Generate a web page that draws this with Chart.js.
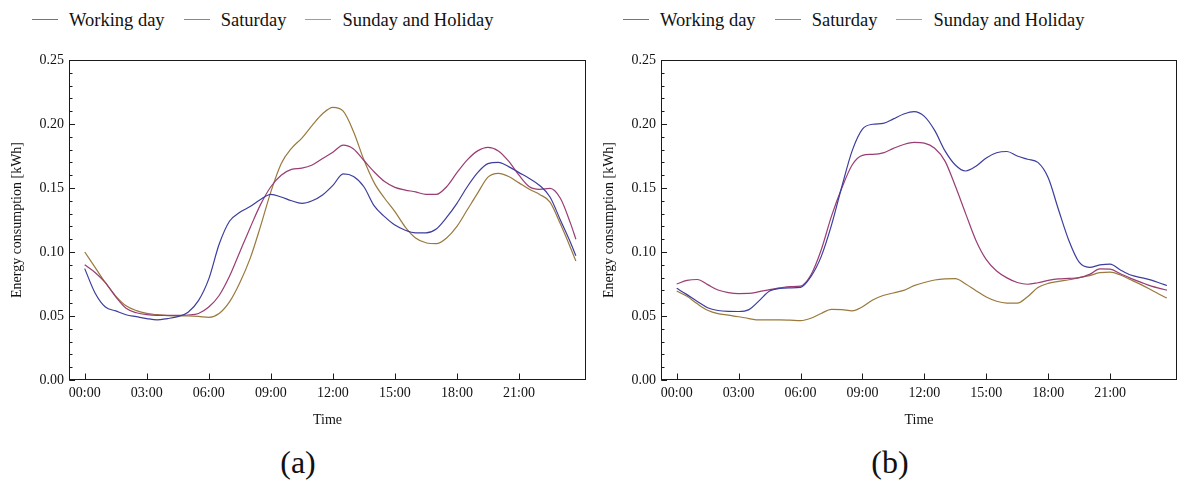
<!DOCTYPE html>
<html>
<head>
<meta charset="utf-8">
<script src="https://cdn.jsdelivr.net/npm/chart.js@4.4.1/dist/chart.umd.min.js"></script>
<style>
  html, body { margin: 0; padding: 0; background: #fff; overflow: hidden; }
  body { width: 1180px; height: 482px; position: relative; font-family: "Liberation Serif", "Times New Roman", serif; color: #111; }
  canvas { position: absolute; top: 40px; }
  #chartA { left: 0; }
  #chartB { left: 592px; }
  .legend { position: absolute; top: 9.5px; display: flex; align-items: center; font-size: 18.5px; line-height: 20px; white-space: nowrap; }
  .legend .item { display: flex; align-items: center; }
  .legend .item + .item { margin-left: 19px; }
  .legend .swatch { width: 26px; height: 1px; margin-right: 11px; opacity: 0.75; }
  .caption { position: absolute; top: 445.5px; width: 200px; text-align: center; font-size: 32px; line-height: 32px; }
</style>
</head>
<body>
<div class="legend" id="legendA" style="left:32px"></div>
<div class="legend" id="legendB" style="left:623px"></div>
<canvas id="chartA" width="590" height="400"></canvas>
<canvas id="chartB" width="588" height="400"></canvas>
<div class="caption" style="left:198px">(a)</div>
<div class="caption" style="left:790px">(b)</div>
<script>
// Time of day in hours (half-hour resolution, last sample at 23:45)
const hours = [0,0.5,1,1.5,2,2.5,3,3.5,4,4.5,5,5.5,6,6.5,7,7.5,8,8.5,9,9.5,10,10.5,11,11.5,12,12.5,13,13.5,14,14.5,15,15.5,16,16.5,17,17.5,18,18.5,19,19.5,20,20.5,21,21.5,22,22.5,23,23.5,23.75];

const seriesNames = ['Working day', 'Saturday', 'Sunday and Holiday'];
const seriesColors = ['#3d3d9e', '#993d74', '#99793d'];

// Panel (a): average energy consumption per day type [kWh]
const workingDayA = [0.087,0.068,0.057,0.054,0.051,0.0495,0.048,0.047,0.048,0.0495,0.053,0.062,0.079,0.106,0.124,0.131,0.1355,0.141,0.145,0.143,0.140,0.138,0.140,0.1445,0.152,0.161,0.159,0.151,0.136,0.1276,0.121,0.117,0.115,0.115,0.118,0.127,0.138,0.151,0.162,0.169,0.170,0.1667,0.162,0.1575,0.152,0.143,0.125,0.107,0.097];
const saturdayA   = [0.090,0.084,0.076,0.065,0.056,0.0525,0.051,0.0505,0.0505,0.0505,0.0508,0.052,0.057,0.066,0.081,0.100,0.119,0.137,0.151,0.160,0.1645,0.1655,0.168,0.173,0.178,0.1835,0.1805,0.1715,0.1625,0.155,0.1505,0.1484,0.147,0.145,0.145,0.151,0.162,0.172,0.179,0.1818,0.179,0.171,0.160,0.151,0.149,0.1497,0.142,0.122,0.110];
const sundayA     = [0.100,0.088,0.076,0.0656,0.058,0.0542,0.052,0.051,0.0503,0.050,0.050,0.0497,0.049,0.052,0.061,0.076,0.095,0.120,0.147,0.169,0.181,0.189,0.199,0.208,0.213,0.210,0.194,0.172,0.154,0.142,0.1315,0.1195,0.111,0.1072,0.1065,0.111,0.120,0.133,0.146,0.1585,0.1615,0.159,0.154,0.149,0.145,0.139,0.122,0.103,0.093];

// Panel (b)
const workingDayB = [0.0716,0.0667,0.0614,0.0565,0.0543,0.0536,0.0535,0.055,0.062,0.0695,0.0716,0.072,0.0724,0.0807,0.0964,0.121,0.151,0.179,0.196,0.1998,0.2005,0.204,0.2078,0.2097,0.206,0.195,0.179,0.168,0.1633,0.167,0.1735,0.1775,0.1785,0.175,0.1725,0.170,0.158,0.133,0.109,0.092,0.088,0.0899,0.0906,0.086,0.082,0.080,0.078,0.0752,0.0738];
const saturdayB   = [0.075,0.0778,0.0785,0.0745,0.0703,0.0683,0.0675,0.0676,0.069,0.0706,0.072,0.073,0.0734,0.082,0.1016,0.128,0.150,0.168,0.1755,0.1763,0.1775,0.181,0.184,0.1856,0.185,0.181,0.171,0.1515,0.130,0.109,0.094,0.0852,0.0798,0.0762,0.0748,0.076,0.0778,0.079,0.0794,0.080,0.0825,0.0868,0.0866,0.083,0.0794,0.0763,0.0733,0.0712,0.0702];
const sundayB     = [0.0695,0.0654,0.0595,0.0545,0.0518,0.0507,0.0494,0.048,0.0469,0.0469,0.0469,0.0467,0.0464,0.0482,0.052,0.0552,0.055,0.054,0.0572,0.0625,0.066,0.068,0.070,0.0737,0.0762,0.0781,0.079,0.0792,0.075,0.0698,0.0648,0.0615,0.0601,0.060,0.065,0.0722,0.0755,0.077,0.0783,0.080,0.0815,0.0839,0.0842,0.082,0.0783,0.0745,0.0703,0.066,0.064];

// Axis ticks
const xTickHours  = [0, 3, 6, 9, 12, 15, 18, 21];
const xTickLabels = ['00:00','03:00','06:00','09:00','12:00','15:00','18:00','21:00'];
const yTickValues = [0, 0.05, 0.10, 0.15, 0.20, 0.25];
const yTickLabels = ['0.00','0.05','0.10','0.15','0.20','0.25'];
const yMinorStep = 0.01;

Chart.defaults.font.family = '"Liberation Serif", "Times New Roman", serif';
Chart.defaults.color = '#111';

// Frame around the plot with inward tick marks on the left and bottom edges
const framePlugin = {
  id: 'frame',
  afterDatasetsDraw(chart) {
    const { ctx, chartArea: a, scales: { x, y } } = chart;
    const L = Math.round(a.left) + 0.5, R = Math.round(a.right) - 0.5;
    const T = Math.round(a.top) + 0.5, B = Math.round(a.bottom) - 0.5;
    ctx.save();
    ctx.strokeStyle = '#1a1a1a';
    ctx.lineWidth = 1;
    ctx.beginPath();
    const yMin = y.min, yMax = y.max;
    for (let k = 0; yMin + k * yMinorStep <= yMax + 1e-9; k++) {
      const py = Math.round(y.getPixelForValue(yMin + k * yMinorStep)) + 0.5;
      ctx.moveTo(L, py); ctx.lineTo(L + 3, py);
    }
    yTickValues.forEach(v => {
      const py = Math.round(y.getPixelForValue(v)) + 0.5;
      ctx.moveTo(L, py); ctx.lineTo(L + 5.5, py);
    });
    xTickHours.forEach(v => {
      const px = Math.round(x.getPixelForValue(v)) + 0.5;
      ctx.moveTo(px, B); ctx.lineTo(px, B - 6);
    });
    ctx.stroke();
    ctx.strokeRect(L, T, R - L, B - T);
    ctx.restore();
  }
};

function buildLegend(id) {
  const el = document.getElementById(id);
  seriesNames.forEach((name, i) => {
    const item = document.createElement('span');
    item.className = 'item';
    const sw = document.createElement('span');
    sw.className = 'swatch';
    sw.style.background = seriesColors[i];
    const label = document.createElement('span');
    label.textContent = name;
    item.appendChild(sw);
    item.appendChild(label);
    el.appendChild(item);
  });
}

function makeChart(canvasId, values, rightPad) {
  const datasets = values.map((vals, i) => ({
    label: seriesNames[i],
    data: hours.map((h, j) => ({ x: h, y: vals[j] })),
    borderColor: seriesColors[i],
    borderWidth: 1.2,
    pointRadius: 0,
    fill: false,
    cubicInterpolationMode: 'monotone'
  }));
  return new Chart(document.getElementById(canvasId), {
    type: 'line',
    data: { datasets },
    options: {
      responsive: false,
      animation: false,
      devicePixelRatio: 1,
      layout: { padding: { left: 0, top: 20, right: rightPad, bottom: 0 } },
      plugins: { legend: { display: false }, tooltip: { enabled: false } },
      scales: {
        x: {
          type: 'linear',
          min: -0.76,
          max: 24.24,
          grid: { display: false, drawTicks: false },
          border: { display: false },
          afterBuildTicks: s => { s.ticks = xTickHours.map(v => ({ value: v })); },
          afterFit: s => { s.height = 60; },
          ticks: {
            padding: 5,
            maxRotation: 0,
            autoSkip: false,
            font: { size: 14 },
            color: '#111',
            callback: (v, i) => xTickLabels[i]
          },
          title: { display: true, text: 'Time', font: { size: 14 }, color: '#111', padding: { top: 0, bottom: 11 } }
        },
        y: {
          type: 'linear',
          min: 0,
          max: 0.25,
          grid: { display: false, drawTicks: false },
          border: { display: false },
          afterBuildTicks: s => { s.ticks = yTickValues.map(v => ({ value: v })); },
          afterFit: s => { s.width = 69; },
          ticks: {
            padding: 5,
            font: { size: 14 },
            color: '#111',
            callback: (v, i) => yTickLabels[i]
          },
          title: { display: true, text: 'Energy consumption [kWh]', font: { size: 14 }, color: '#111', padding: { top: 9, bottom: 0 } }
        }
      }
    },
    plugins: [framePlugin]
  });
}

buildLegend('legendA');
buildLegend('legendB');
makeChart('chartA', [workingDayA, saturdayA, sundayA], 4);
makeChart('chartB', [workingDayB, saturdayB, sundayB], 3);
</script>
</body>
</html>
